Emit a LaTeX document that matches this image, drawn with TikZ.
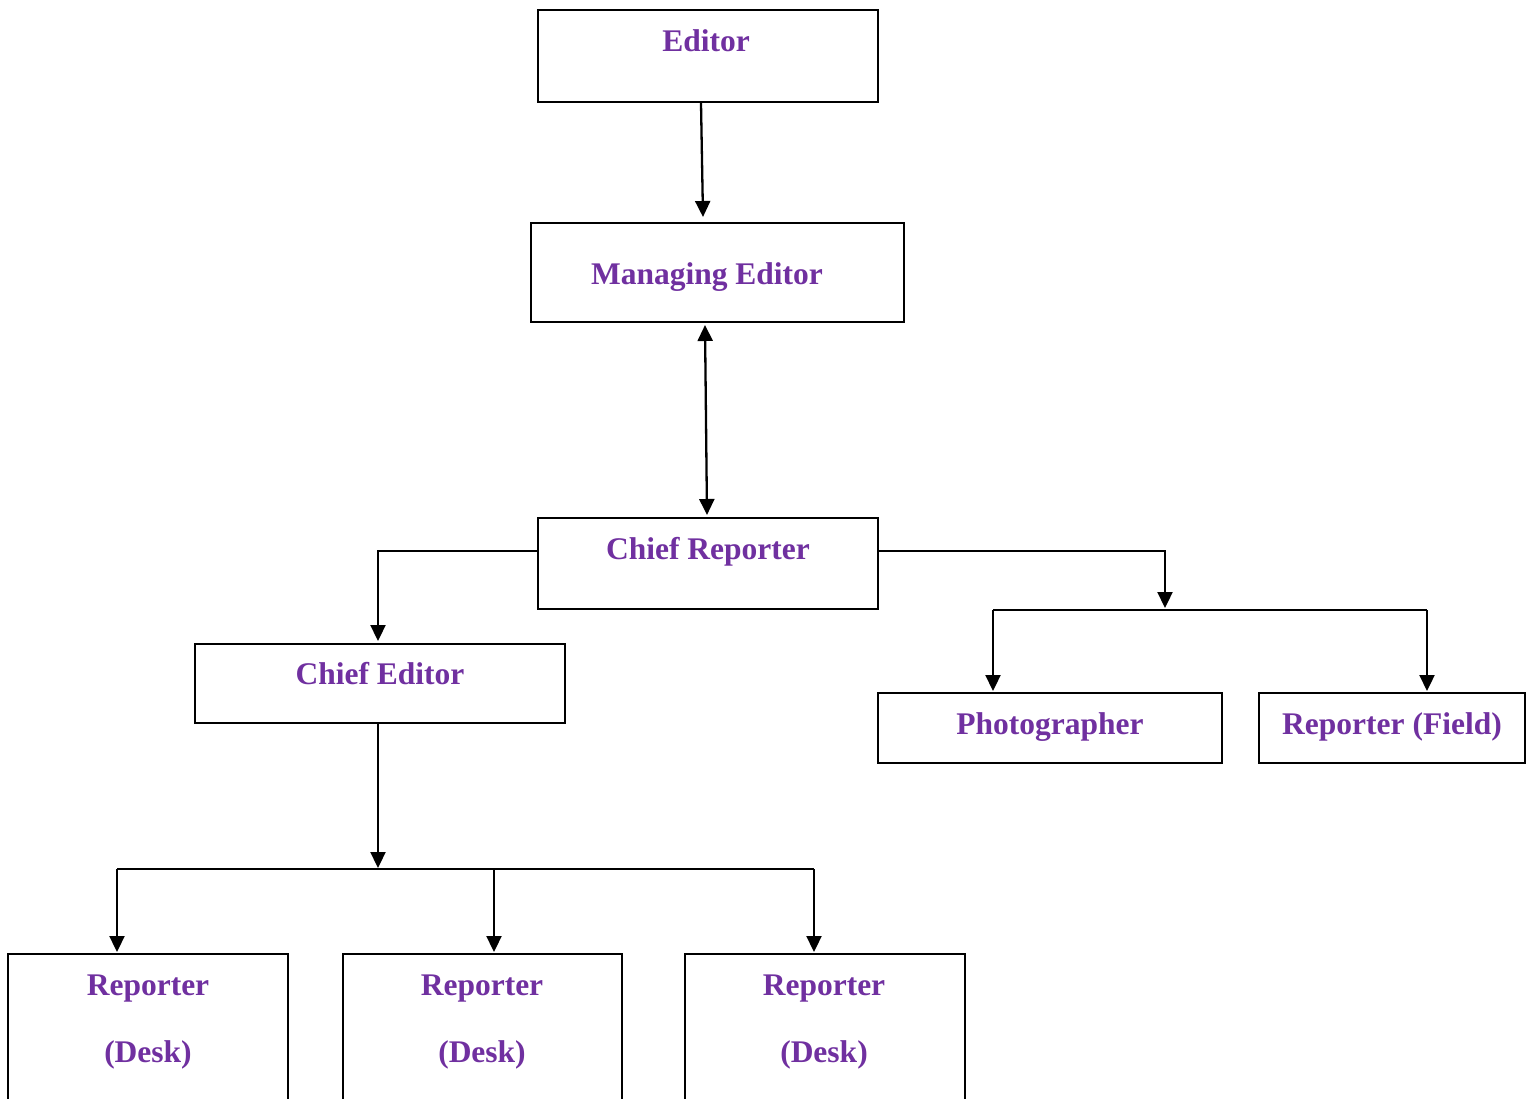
\documentclass[tikz,border=0pt]{standalone}
\usepackage{fontspec}
\setmainfont{Liberation Serif}
\usetikzlibrary{arrows.meta}
\definecolor{lblpurple}{HTML}{7030A0}
\tikzset{
  box/.style={draw=black, line width=2pt, inner sep=0pt},
  lbl/.style={inner sep=0pt, anchor=base, text=lblpurple, font=\fontsize{31.5}{36}\selectfont\bfseries},
  conn/.style={line width=2.3pt},
  arr/.style={conn, -{Triangle[width=15pt,length=16pt]}},
  darr/.style={conn, {Triangle[width=15pt,length=16pt]}-{Triangle[width=15pt,length=16pt]}}
}
\begin{document}
\begin{tikzpicture}[x=1pt,y=-1pt]
\useasboundingbox (0,0) rectangle (1532,1099);
\clip (0,0) rectangle (1532,1099);
\fill[white] (0,0) rectangle (1532,1099);
% boxes
\node[box, minimum width=340pt, minimum height=92pt] (edit) at (708,56) {};
\node[box, minimum width=373pt, minimum height=99pt] (man) at (717.5,272.5) {};
\node[box, minimum width=340pt, minimum height=91pt] (cr) at (708,563.5) {};
\node[box, minimum width=370pt, minimum height=79pt] (ce) at (380,683.5) {};
\node[box, minimum width=344pt, minimum height=70pt] (ph) at (1050,728) {};
\node[box, minimum width=266pt, minimum height=70pt] (rf) at (1392,728) {};
\node[box, minimum width=280pt, minimum height=170pt] (d1) at (148,1039) {};
\node[box, minimum width=279pt, minimum height=170pt] (d2) at (482.5,1039) {};
\node[box, minimum width=280pt, minimum height=170pt] (d3) at (825,1039) {};
% labels
\node[lbl] (tEdit) at (706,52) {Editor};
\node[lbl] (tMan) at (707,285) {Managing Editor};
\node[lbl] (tCr) at (708,559) {Chief Reporter};
\node[lbl] (tCe) at (380,684) {Chief Editor};
\node[lbl] (tPh) at (1050,734) {Photographer};
\node[lbl] (tRf) at (1392,734) {Reporter (Field)};
\node[lbl] (tD1a) at (148,995) {Reporter};
\node[lbl] (tD1b) at (148,1062) {(Desk)};
\node[lbl] (tD2a) at (482,995) {Reporter};
\node[lbl] (tD2b) at (482,1062) {(Desk)};
\node[lbl] (tD3a) at (824,995) {Reporter};
\node[lbl] (tD3b) at (824,1062) {(Desk)};
% bus coordinates
\coordinate (cbus) at (378,869);
\coordinate (busL) at (117,869);
\coordinate (busM) at (494,869);
\coordinate (busR) at (814,869);
\coordinate (rbus) at (1165,610);
\coordinate (rbusL) at (993,610);
\coordinate (rbusR) at (1427,610);
% connectors
\draw[arr] ([xshift=-7pt]edit.south) -- ([xshift=-14.5pt,yshift=5pt]man.north);
\draw[darr] ([xshift=-12.5pt,yshift=-2pt]man.south) -- ([xshift=-1pt,yshift=2pt]cr.north);
\draw[arr] ([yshift=12.5pt]cr.west) -| ([xshift=-2pt,yshift=2pt]ce.north);
\draw[arr] ([xshift=-2pt]ce.south) -- ([yshift=1pt]cbus);
\draw[conn] (busL) -- (busR);
\draw[arr] (busL) -- ([yshift=1pt]d1.north -| busL);
\draw[arr] (busM) -- ([yshift=1pt]d2.north -| busM);
\draw[arr] (busR) -- ([yshift=1pt]d3.north -| busR);
\draw[arr] ([yshift=12.5pt]cr.east) -| ([yshift=2pt]rbus);
\draw[conn] (rbusL) -- (rbusR);
\draw[arr] (rbusL) -- ([yshift=1pt]ph.north -| rbusL);
\draw[arr] (rbusR) -- ([yshift=1pt]rf.north -| rbusR);
\end{tikzpicture}
\end{document}
